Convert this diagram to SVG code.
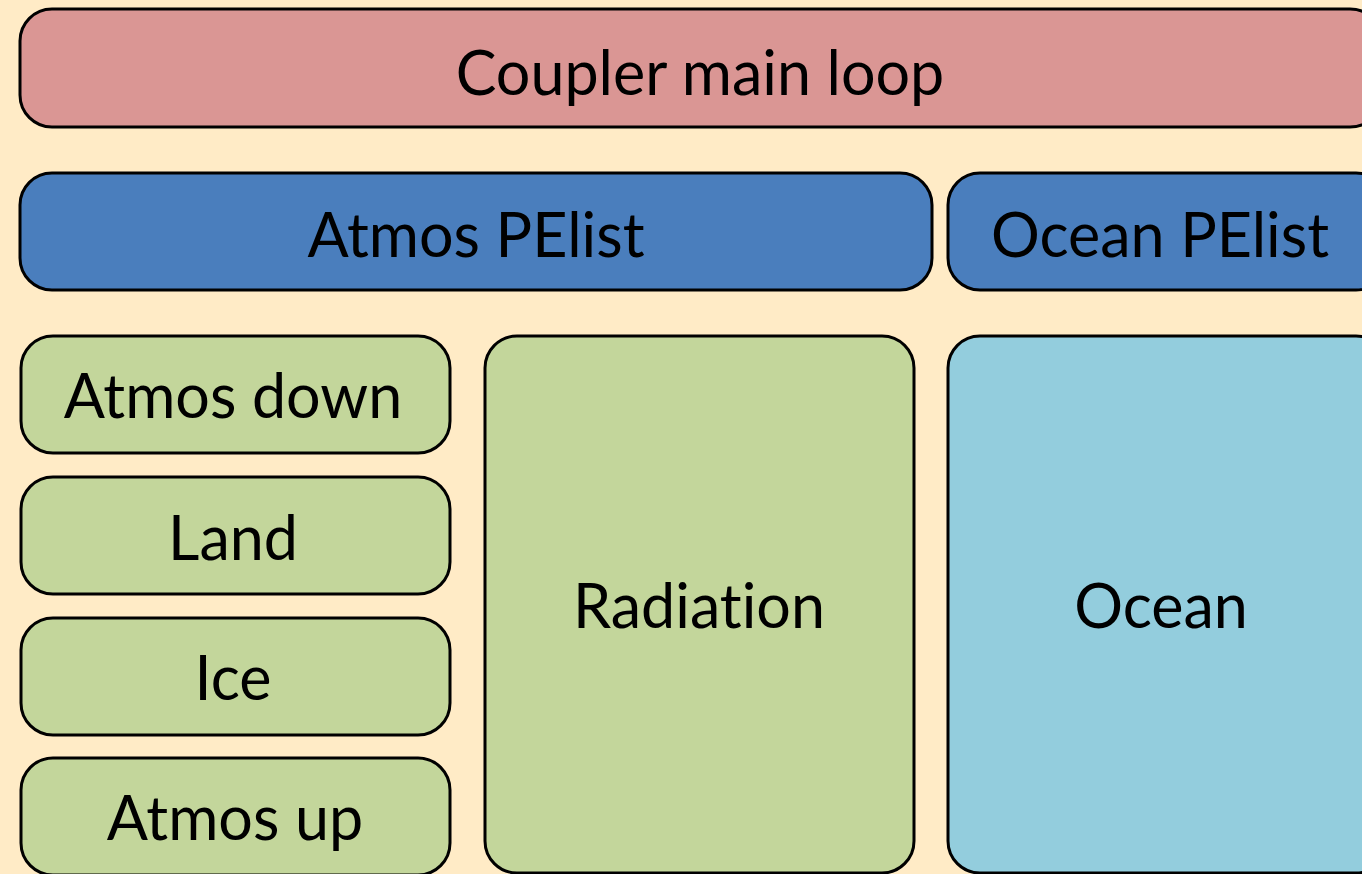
<svg xmlns="http://www.w3.org/2000/svg" width="1362" height="874" viewBox="0 0 1362 874">
  <style>
    .box { stroke: #000; stroke-width: 3; }
    .loop { fill: #DA9694; }
    .pe { fill: #4A7EBD; }
    .comp { fill: #C3D69B; }
    .ocean { fill: #93CDDD; }
    text { font-family: Lato, "Open Sans", "Liberation Sans", sans-serif; font-size: 61px; fill: #000; text-anchor: middle; font-variant-ligatures: none; }
  </style>
  <rect width="1362" height="874" fill="#FFEBC6"/>

  <g id="coupler-main-loop">
    <rect class="box loop" x="20" y="9" width="1362" height="118" rx="32"/>
    <text x="700" y="95">Coupler main loop</text>
  </g>

  <g id="atmos-pelist">
    <rect class="box pe" x="20" y="173" width="912" height="117" rx="32"/>
    <text x="476" y="257">Atmos PElist</text>
  </g>

  <g id="ocean-pelist">
    <rect class="box pe" x="948" y="173" width="440" height="117" rx="32"/>
    <text x="1160" y="257">Ocean PElist</text>
  </g>

  <g id="atmos-down">
    <rect class="box comp" x="21" y="336" width="429" height="117" rx="32"/>
    <text x="233" y="418">Atmos down</text>
  </g>

  <g id="land">
    <rect class="box comp" x="21" y="477" width="429" height="117" rx="32"/>
    <text x="233" y="560">Land</text>
  </g>

  <g id="ice">
    <rect class="box comp" x="21" y="618" width="429" height="117" rx="32"/>
    <text x="233" y="700">Ice</text>
  </g>

  <g id="atmos-up">
    <rect class="box comp" x="21" y="758" width="429" height="117" rx="32"/>
    <text x="235" y="840">Atmos up</text>
  </g>

  <g id="radiation">
    <rect class="box comp" x="485" y="336" width="429" height="537" rx="32"/>
    <text x="699" y="628">Radiation</text>
  </g>

  <g id="ocean">
    <rect class="box ocean" x="948" y="336" width="440" height="537" rx="32"/>
    <text x="1161" y="628">Ocean</text>
  </g>

  <g id="connectors"/>
</svg>
